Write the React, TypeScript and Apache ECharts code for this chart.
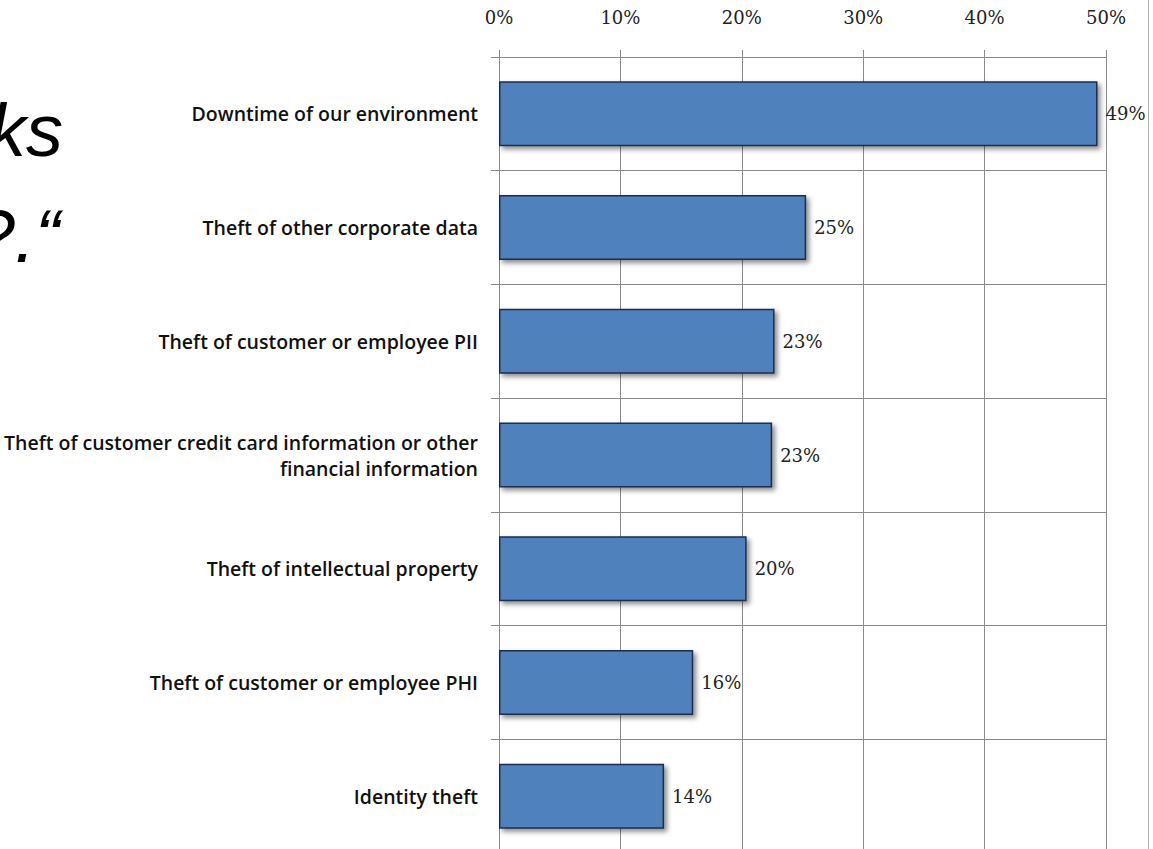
import React, { useEffect, useRef } from "react";
import * as echarts from "echarts";

const categories = [
  "Downtime of our environment",
  "Theft of other corporate data",
  "Theft of customer or employee PII",
  "Theft of customer credit card information or other\nfinancial information",
  "Theft of intellectual property",
  "Theft of customer or employee PHI",
  "Identity theft",
];
const values = [49.3, 25.3, 22.7, 22.5, 20.4, 16.0, 13.6];
const valueLabels = ["49%", "25%", "23%", "23%", "20%", "16%", "14%"];
const tickValues = [0, 10, 20, 30, 40, 50];

export default function App() {
  const ref = useRef<HTMLDivElement>(null);
  useEffect(() => {
    if (!ref.current) return;
    const chart = echarts.init(ref.current, null, { renderer: "svg" });
    chart.setOption({
      animation: false,
      backgroundColor: "#ffffff",
      grid: { left: 499, width: 607, top: 57, height: 796, containLabel: false },
      xAxis: {
        type: "value",
        position: "top",
        min: tickValues[0],
        max: tickValues[tickValues.length - 1],
        interval: 10,
        axisLine: { show: true, lineStyle: { color: "#8a8a8a", width: 1 } },
        axisTick: { show: true, length: 7, lineStyle: { color: "#8a8a8a" } },
        splitLine: { show: true, lineStyle: { color: "#8a8a8a", width: 1 } },
        axisLabel: {
          margin: 31,
          formatter: (v: number) => v + "%",
          fontFamily: "DejaVu Serif",
          fontSize: 18,
          color: "#222",
        },
      },
      yAxis: {
        type: "category",
        inverse: true,
        data: categories,
        axisLine: { show: true, lineStyle: { color: "#8a8a8a", width: 1 } },
        axisTick: { show: true, length: 8, lineStyle: { color: "#8a8a8a" } },
        splitLine: { show: true, lineStyle: { color: "#8a8a8a", width: 1 } },
        axisLabel: {
          margin: 21,
          fontFamily: "Open Sans",
          fontWeight: 600,
          fontSize: 19.5,
          color: "#111",
          lineHeight: 26,
          align: "right",
        },
      },
      series: [
        {
          type: "bar",
          data: values,
          barWidth: 65,
          itemStyle: {
            color: "#4f81bd",
            borderColor: "#1c2f4f",
            borderWidth: 1.5,
            shadowColor: "rgba(0,0,0,0.45)",
            shadowBlur: 5,
            shadowOffsetX: 3,
            shadowOffsetY: 3,
          },
          label: {
            show: true,
            position: "right",
            distance: 8,
            formatter: (p: any) => valueLabels[p.dataIndex],
            fontFamily: "DejaVu Serif",
            fontSize: 18,
            color: "#222",
          },
        },
      ],
      graphic: [
        {
          type: "line",
          shape: { x1: 1148.5, y1: 0, x2: 1148.5, y2: 853 },
          style: { stroke: "#b0b0b0", lineWidth: 1 },
        },
        {
          type: "text",
          x: 63,
          y: 167,
          style: {
            text: "ks",
            font: "italic 74px 'Liberation Sans'",
            fill: "#000",
            textAlign: "right",
            textVerticalAlign: "bottom",
          },
        },
        {
          type: "text",
          x: 60,
          y: 273,
          style: {
            text: "?.\u201c",
            font: "italic 74px 'Liberation Sans'",
            fill: "#000",
            textAlign: "right",
            textVerticalAlign: "bottom",
          },
        },
      ],
    });
    return () => chart.dispose();
  }, []);
  return (
    <div style={{ position: "absolute", left: 0, top: 0, width: 1153, height: 849, overflow: "hidden", background: "#fff" }}>
      <div ref={ref} style={{ width: 1153, height: 853 }} />
    </div>
  );
}
